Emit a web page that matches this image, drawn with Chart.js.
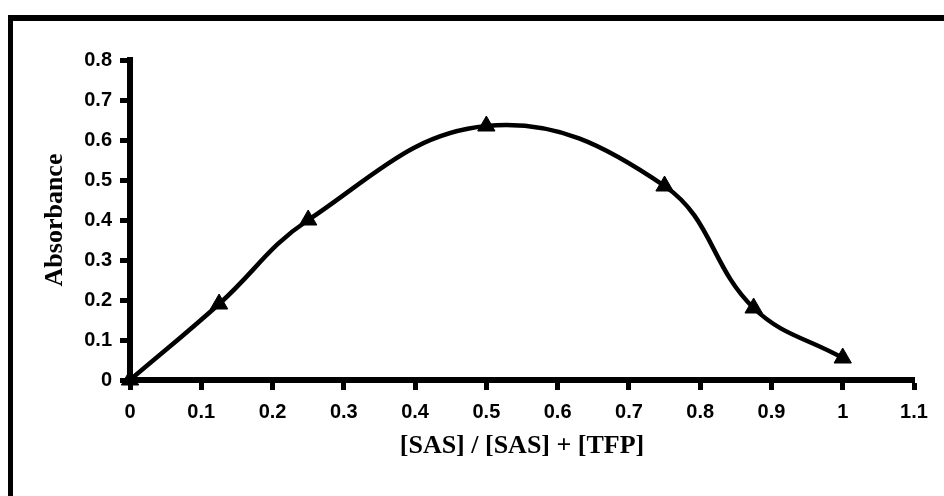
<!DOCTYPE html>
<html>
<head>
<meta charset="utf-8">
<script src="https://cdn.jsdelivr.net/npm/chart.js@4"></script>
<style>
  html, body { margin: 0; padding: 0; background: #fff; }
  #wrap { position: relative; width: 944px; height: 496px; overflow: hidden; }
  #frame {
    position: absolute; left: 8px; top: 15px; width: 1000px; height: 600px;
    border-left: 5px solid #000; border-top: 6px solid #000;
  }
  #chart { position: absolute; left: 0; top: 0; }
</style>
</head>
<body>
<div id="wrap">
  <div id="frame"></div>
  <canvas id="chart" width="944" height="496"></canvas>
</div>
<script>
// mole fraction vs absorbance (continuous variation)
const moleFraction = [0, 0.125, 0.25, 0.5, 0.75, 0.875, 1];
const absorbance = [0, 0.19, 0.40, 0.635, 0.485, 0.18, 0.055];

const xTickLabels = ["0", "0.1", "0.2", "0.3", "0.4", "0.5", "0.6", "0.7", "0.8", "0.9", "1", "1.1"];
const yTickLabels = ["0", "0.1", "0.2", "0.3", "0.4", "0.5", "0.6", "0.7", "0.8"];

const xTitle = "[SAS] / [SAS] + [TFP]";
const yTitle = "Absorbance";

const tickFont = { family: "'Liberation Sans', Arial, sans-serif", size: 20, weight: "bold" };
const titleFont = { family: "'Liberation Serif', 'Times New Roman', serif", size: 26, weight: "bold" };

const canvas = document.getElementById("chart");

new Chart(canvas, {
  type: "scatter",
  data: {
    datasets: [{
      data: moleFraction.map((x, i) => ({ x, y: absorbance[i] })),
      showLine: true,
      borderColor: "#000",
      borderWidth: 4.5,
      tension: 0.4,
      pointStyle: "triangle",
      pointRadius: 10,
      pointBackgroundColor: "#000",
      pointBorderColor: "#000",
      pointBorderWidth: 1,
      clip: false
    }]
  },
  options: {
    responsive: false,
    animation: false,
    layout: { padding: { top: 60, right: 30, left: 0, bottom: 0 } },
    plugins: { legend: { display: false }, tooltip: { enabled: false } },
    scales: {
      x: {
        type: "linear",
        min: 0, max: 1.1,
        afterFit: s => { s.height = 116; },
        border: { display: true, color: "#000", width: 6 },
        grid: { display: true, drawOnChartArea: false, drawTicks: true, tickLength: 10, tickWidth: 5, tickColor: "#000" },
        ticks: {
          stepSize: 0.1, color: "#000", font: tickFont, padding: 10, maxRotation: 0,
          callback: (v, i) => xTickLabels[i]
        },
        title: { display: true, text: xTitle, color: "#000", font: titleFont, padding: { top: 0, bottom: 34 } }
      },
      y: {
        min: 0, max: 0.8,
        afterFit: s => { s.width = 130; },
        border: { display: true, color: "#000", width: 6 },
        grid: { display: true, drawOnChartArea: false, drawTicks: true, tickLength: 10, tickWidth: 5, tickColor: "#000" },
        ticks: {
          stepSize: 0.1, color: "#000", font: tickFont, padding: 8,
          callback: (v, i) => yTickLabels[i]
        },
        title: { display: true, text: yTitle, color: "#000", font: titleFont, padding: { top: 40, bottom: 0 } }
      }
    }
  }
});
</script>
</body>
</html>
